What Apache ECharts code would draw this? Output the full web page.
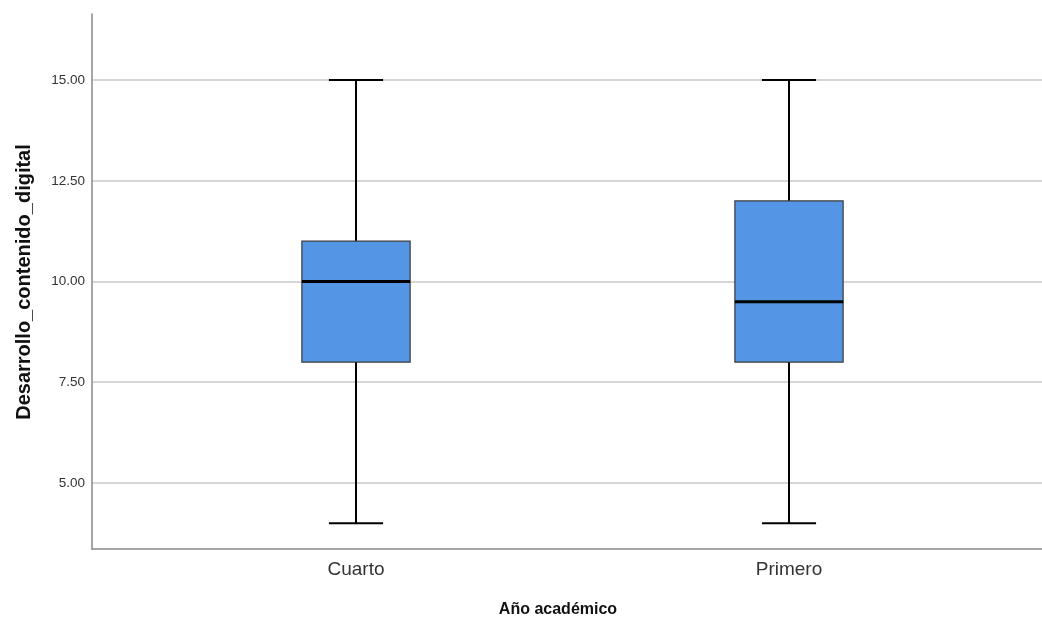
<!DOCTYPE html>
<html>
<head>
<meta charset="utf-8">
<script src="https://cdn.jsdelivr.net/npm/echarts@6/dist/echarts.min.js"></script>
<style>
  html, body { margin: 0; padding: 0; background: #fff; }
  #chart { width: 1042px; height: 618px; }
</style>
</head>
<body>
<div id="chart"></div>
<script>
// Five-number summaries per academic year
const categories = ['Cuarto', 'Primero'];
const minValues = [4, 4];
const q1Values = [8, 8];
const medianValues = [10, 9.5];
const q3Values = [11, 12];
const maxValues = [15, 15];
const yTicks = [5, 7.5, 10, 12.5, 15];

const FONT = "'Liberation Sans', Arial, sans-serif";
const Y_MIN = 3.36, Y_MAX = 16.64;

const boxData = categories.map((c, i) => [i, minValues[i], q1Values[i], medianValues[i], q3Values[i], maxValues[i]]);

function renderBox(params, api) {
  const idx = api.value(0);
  const band = api.size([1, 0])[0];
  const boxW = band * 0.25;
  const capW = band * 0.125;
  const pMin = api.coord([idx, api.value(1)]);
  const pQ1 = api.coord([idx, api.value(2)]);
  const pMed = api.coord([idx, api.value(3)]);
  const pQ3 = api.coord([idx, api.value(4)]);
  const pMax = api.coord([idx, api.value(5)]);
  const x = pMed[0];
  const whisker = { stroke: '#000', lineWidth: 2 };
  return {
    type: 'group',
    children: [
      { type: 'line', shape: { x1: x, y1: pMax[1], x2: x, y2: pQ3[1] }, style: whisker },
      { type: 'line', shape: { x1: x, y1: pQ1[1], x2: x, y2: pMin[1] }, style: whisker },
      { type: 'line', shape: { x1: x - capW / 2, y1: pMax[1], x2: x + capW / 2, y2: pMax[1] }, style: whisker },
      { type: 'line', shape: { x1: x - capW / 2, y1: pMin[1], x2: x + capW / 2, y2: pMin[1] }, style: whisker },
      { type: 'rect', shape: { x: x - boxW / 2, y: pQ3[1], width: boxW, height: pQ1[1] - pQ3[1] },
        style: { fill: '#5495E5', stroke: '#3a3a3a', lineWidth: 1.2 } },
      { type: 'line', shape: { x1: x - boxW / 2, y1: pMed[1], x2: x + boxW / 2, y2: pMed[1] },
        style: { stroke: '#000', lineWidth: 3 } }
    ]
  };
}

const chart = echarts.init(document.getElementById('chart'));
chart.setOption({
  animation: false,
  backgroundColor: '#fff',
  grid: [
    { left: 92, right: 0, top: 14, bottom: 69 },
    { left: 139.5, right: 36.5, top: 14, bottom: 69 }
  ],
  xAxis: [
    { gridIndex: 0, type: 'value', min: 0, max: 1,
      axisLine: { show: true, onZero: false, lineStyle: { color: '#888', width: 1.5 } },
      axisTick: { show: false }, axisLabel: { show: false }, splitLine: { show: false } },
    { gridIndex: 1, type: 'category', data: categories,
      axisLine: { show: false }, axisTick: { show: false },
      axisLabel: { fontFamily: FONT, fontSize: 19, color: '#333', margin: 11 } }
  ],
  yAxis: [
    { gridIndex: 0, type: 'value', min: Y_MIN, max: Y_MAX,
      axisLine: { show: true, lineStyle: { color: '#888', width: 1.5 } },
      axisTick: { show: false, customValues: yTicks },
      axisLabel: { customValues: yTicks, formatter: v => v.toFixed(2),
        fontFamily: FONT, fontSize: 13.5, color: '#333', margin: 7 },
      splitLine: { show: true, lineStyle: { color: '#c8c8c8', width: 1.5 } } },
    { gridIndex: 1, type: 'value', min: Y_MIN, max: Y_MAX, show: false, splitLine: { show: false } }
  ],
  series: [
    { type: 'custom', xAxisIndex: 1, yAxisIndex: 1, data: boxData, renderItem: renderBox,
      encode: { x: 0, y: [1, 2, 3, 4, 5] } }
  ],
  graphic: [
    { type: 'text', x: 558, y: 610,
      style: { text: 'Año académico', font: "bold 16px " + FONT, fill: '#111',
        align: 'center', verticalAlign: 'middle' } },
    { type: 'text', x: 24, y: 282, rotation: Math.PI / 2,
      style: { text: 'Desarrollo_contenido_digital', font: "bold 20px " + FONT, fill: '#111',
        align: 'center', verticalAlign: 'middle' } }
  ]
});
</script>
</body>
</html>
